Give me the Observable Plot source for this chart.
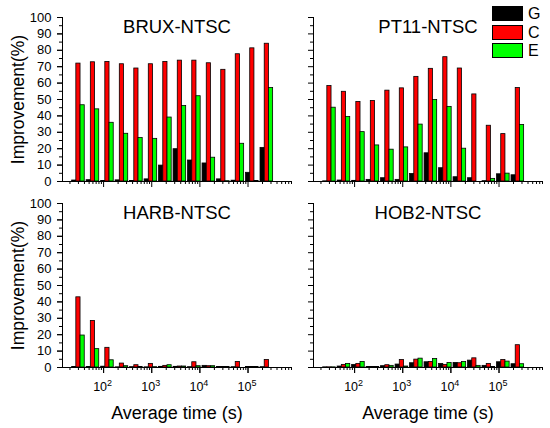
<!DOCTYPE html>
<html><head><meta charset="utf-8">
<script src="https://cdn.jsdelivr.net/npm/d3@7"></script>
<script src="https://cdn.jsdelivr.net/npm/@observablehq/plot@0.6"></script>
<style>
body{margin:0;background:#fff;}
#wrap{position:relative;width:550px;height:428px;font-family:"Liberation Sans",Arial,sans-serif;color:#000;}
#legend{position:absolute;left:492px;top:6px;}
.item{display:flex;align-items:flex-start;height:18.5px;}
.sw{width:31px;height:15px;border:1px solid #000;box-sizing:border-box;}
.lab{margin-left:5px;font-size:16px;line-height:15px;}
</style>
</head><body>
<div id="wrap"><div id="legend"></div></div>
<script>
const taus = [30, 60, 120, 240, 480, 960, 1920, 3840, 7680, 15360, 30720, 61440, 122880, 245760];
const seriesNames = ["G", "C", "E"];
const seriesColors = ["#000000", "#ff0000", "#00ff00"];
const panelNames = ["BRUX-NTSC", "PT11-NTSC", "HARB-NTSC", "HOB2-NTSC"];

const bruxG = [0.6, 0.8, 0.3, 0.7, 0.3, 1.3, 9.7, 19.7, 12.8, 11, 1.3, 0.5, 5.3, 20.5];
const bruxC = [71.9, 72.7, 72.9, 71.5, 68.9, 71.5, 72.9, 73.7, 73.7, 72.1, 68.1, 77.6, 81.2, 84];
const bruxE = [46.5, 44, 35.8, 29.1, 26.5, 26, 39, 46, 52, 14.5, 0.2, 23, 0.3, 57];

const pt11G = [0.1, 0.6, 0.4, 1, 2, 1, 4.6, 17.2, 8.1, 2.6, 2, 0.2, 4.4, 3.8];
const pt11C = [58.2, 54.7, 48.5, 49.1, 55.4, 56.8, 63.8, 68.7, 75.8, 68.9, 53.1, 34, 28.9, 57];
const pt11E = [45, 39.4, 30.1, 22, 19.4, 20.8, 34.7, 49.7, 45.5, 20, 0, 1.6, 4.8, 34.5];

const harbG = [0.3, 0.3, 0.5, 0.1, 0.2, 0.1, 0.4, 0.4, 0.2, 1, 0.3, 0.2, 0.3, 0.2];
const harbC = [42.8, 28.4, 12, 2.4, 1.4, 2.2, 1, 0.6, 3.2, 0.8, 0.3, 3.4, 0.3, 4.6];
const harbE = [19.5, 11.2, 4.4, 0.8, 0.3, 0.2, 1.4, 0.6, 0.8, 0.8, 0.3, 0, 0.3, 0];

const hob2G = [0.1, 0.6, 1.6, 0.3, 0.8, 1.8, 2.6, 3.2, 2.2, 2.8, 4.2, 1, 3.2, 2];
const hob2C = [0.1, 1.6, 2.2, 0.3, 1.4, 4.6, 4.8, 3.4, 1.6, 2.6, 5.6, 2.2, 4.6, 13.6];
const hob2E = [0.1, 2.2, 3.4, 0.3, 1, 0.6, 5.4, 5.2, 2.8, 3.4, 1, 0.3, 3.6, 2];

const yTicks = [0, 10, 20, 30, 40, 50, 60, 70, 80, 90, 100];
const yMinorTicks = [5, 15, 25, 35, 45, 55, 65, 75, 85, 95];
const xTicks = [100, 1000, 10000, 100000];
const xTickBase = "10";
const xTickExponents = ["2", "3", "4", "5"];
const yLabel = "Improvement(%)";
const xLabel = "Average time (s)";

const panelValues = [[bruxG, bruxC, bruxE], [pt11G, pt11C, pt11E], [harbG, harbC, harbE], [hob2G, hob2C, hob2E]];
const barW = 0.29; // bar width in log2 units
const rows = [];
panelValues.forEach((vals, p) => vals.forEach((arr, s) => arr.forEach((v, i) => {
  const off = (s - 1) * barW;
  rows.push({col: p % 2, row: Math.floor(p / 2), series: seriesNames[s], value: v,
    lo: taus[i] * Math.pow(2, off - barW / 2), hi: taus[i] * Math.pow(2, off + barW / 2)});
})));
const panels = panelNames.map((name, p) => ({name, col: p % 2, row: Math.floor(p / 2)}));
const xDomain = [14, 8e5];
const minorX = [];
for (let e = 1; e <= 5; e++) for (let m = 2; m <= 9; m++) {
  const v = m * Math.pow(10, e);
  if (v >= xDomain[0] && v <= xDomain[1]) minorX.push(v);
}

const chart = Plot.plot({
  width: 550, height: 428,
  marginLeft: 62, marginRight: 7, marginTop: 16, marginBottom: 60,
  style: {fontFamily: "'Liberation Sans', Arial, sans-serif", fontSize: "13px", color: "#000", background: "#fff", overflow: "visible"},
  fx: {domain: [0, 1], axis: null, paddingInner: 0.0875, paddingOuter: 0},
  fy: {domain: [0, 1], axis: null, paddingInner: 0.1176, paddingOuter: 0},
  x: {type: "log", domain: xDomain, axis: null},
  y: {domain: [0, 100], axis: null},
  color: {domain: seriesNames, range: seriesColors},
  marks: [
    Plot.rect(rows, {x1: "lo", x2: "hi", y1: 0, y2: "value", fx: "col", fy: "row", fill: "series", stroke: "#000", strokeWidth: 0.8}),
    Plot.axisY({ticks: yTicks, tickSize: 5, tickFormat: () => "", facetAnchor: null, label: null}),
    Plot.axisY({ticks: yMinorTicks, tickSize: 3, tickFormat: () => "", facetAnchor: null, label: null}),
    Plot.axisY({ticks: yTicks, tickSize: 5, tickPadding: 6, facetAnchor: "left", label: null, fontSize: 13}),
    Plot.axisX({ticks: minorX, tickSize: 3, tickFormat: () => "", facetAnchor: null, label: null}),
    Plot.axisX({ticks: xTicks, tickSize: 6, tickFormat: () => "", facetAnchor: null, label: null}),
    Plot.axisX({ticks: xTicks, tickSize: 6, tickPadding: 9, facetAnchor: "bottom", label: null, fontSize: 12.5,
      tickFormat: d => "EXP" + xTickExponents[xTicks.indexOf(d)]}),
    Plot.frame({anchor: "left", stroke: "#000"}),
    Plot.frame({anchor: "bottom", stroke: "#000"}),
    Plot.text(panels, {fx: "col", fy: "row", text: "name", frameAnchor: "top", lineAnchor: "top", dy: 2, fontSize: 18.5}),
    Plot.text(panels.filter(d => d.col === 0), {fx: "col", fy: "row", text: () => yLabel, frameAnchor: "left", rotate: -90, dx: -44, fontSize: 17.5, textAnchor: "middle", lineAnchor: "middle"}),
    Plot.text(panels.filter(d => d.row === 1), {fx: "col", fy: "row", text: () => xLabel, frameAnchor: "bottom", lineAnchor: "middle", dy: 46, fontSize: 18})
  ]
});
document.getElementById("wrap").prepend(chart);

// render exponent tick labels as base + raised superscript
chart.querySelectorAll("text").forEach(t => {
  const s = t.textContent;
  if (s.startsWith("EXP")) {
    const exp = s.slice(3);
    while (t.firstChild) t.removeChild(t.firstChild);
    t.appendChild(document.createTextNode(xTickBase));
    const sup = document.createElementNS("http://www.w3.org/2000/svg", "tspan");
    sup.setAttribute("font-size", "9");
    sup.setAttribute("dy", "-5");
    sup.textContent = exp;
    t.appendChild(sup);
    t.setAttribute("dx", "-1");
  }
});

const legend = document.getElementById("legend");
seriesNames.forEach((n, i) => {
  const it = document.createElement("div"); it.className = "item";
  const sw = document.createElement("div"); sw.className = "sw"; sw.style.background = seriesColors[i];
  const lb = document.createElement("span"); lb.className = "lab"; lb.textContent = n;
  it.append(sw, lb); legend.append(it);
});
</script>
</body></html>
